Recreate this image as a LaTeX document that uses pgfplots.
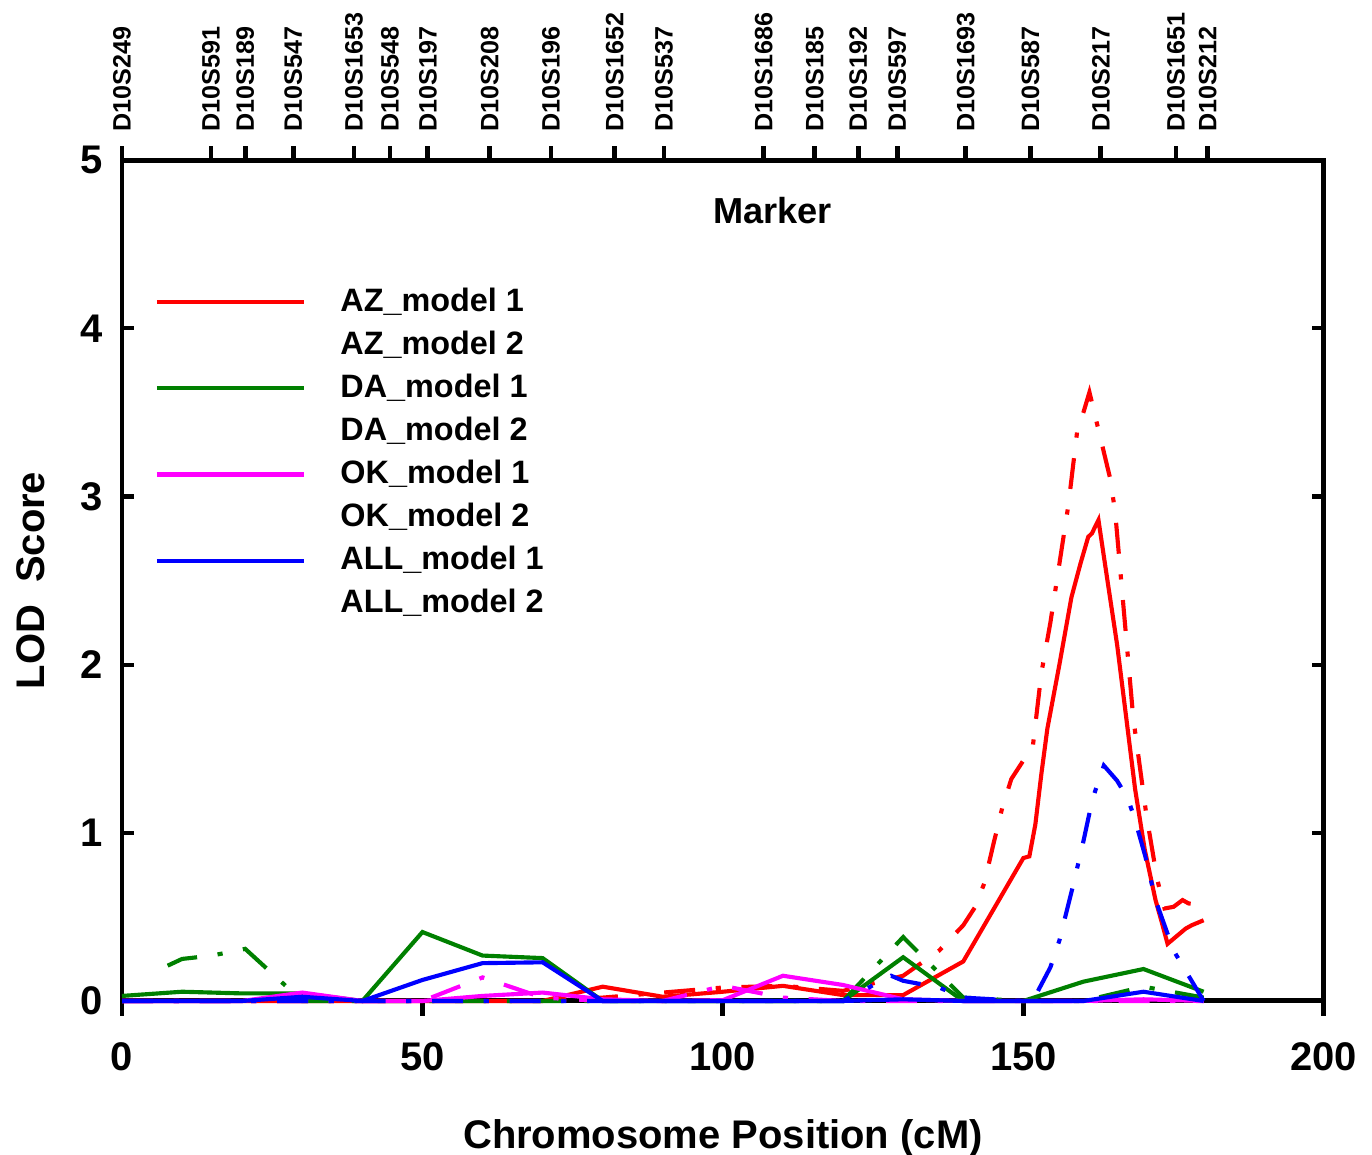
\documentclass[border=0pt]{standalone}
\usepackage{fontspec}
\setmainfont{Liberation Sans}
\usepackage{pgfplots}
\pgfplotsset{compat=1.18}

\definecolor{azred}{RGB}{255,0,0}
\definecolor{dagreen}{RGB}{0,128,0}
\definecolor{okmag}{RGB}{255,0,255}
\definecolor{allblue}{RGB}{0,0,255}

\pgfplotsset{
  lodbox/.style={width=348.9pt, height=244.1pt, scale only axis,
    xmin=0, xmax=200, ymin=0, ymax=5},
  m1/.style={line width=1.2pt},
  m2/.style={line width=1.2pt, dash pattern=on 9pt off 6pt on 1.5pt off 6pt,
    legend image code/.code={}},
}

\begin{document}
\begin{tikzpicture}
% outward ticks under the x axis, set as rules in the tick labels
\begin{axis}[lodbox,
  axis x line*=bottom, axis y line=none,
  x axis line style={-, line width=1.45pt},
  tick align=outside, major tick length=0pt,
  xtick={0,50,100,150,200},
  xticklabel={\rule{1.4pt}{4.8pt}},
  xticklabel style={anchor=north, inner sep=0pt, yshift=0.7pt},
]
\end{axis}
\begin{axis}[lodbox, clip=false,
  axis line style={line width=1.45pt},
  tick style={line width=1.2pt, black},
  major tick length=3.5pt,
  tick align=inside,
  xtick={0,50,...,200}, xtick pos=left,
  xtick style={draw=none},
  ytick={0,1,...,5}, ytick pos=both, yticklabel pos=left,
  minor tick num=0,
  ticklabel style={font=\fontsize{11.6}{13}\selectfont\bfseries},
  /pgf/number format/assume math mode=true,
  xticklabel style={yshift=-8.5pt},
  yticklabel style={xshift=-2pt},
  xlabel={Chromosome Position (cM)},
  xlabel style={at={(axis description cs:0.5,-0.1749)}, anchor=base,
    font=\fontsize{11.6}{13}\selectfont\bfseries},
  ylabel={LOD\ \ Score},
  ylabel style={at={(axis description cs:-0.0641,0.5)}, anchor=base,
    font=\fontsize{11.6}{13}\selectfont\bfseries},
  legend style={at={(axis description cs:0.0267,0.849)}, anchor=north west,
    draw=none, fill=none, inner sep=0pt, column sep=10pt, row sep=4.2pt,
    font=\fontsize{9.4}{11}\selectfont\bfseries, nodes={inner sep=0pt}},
  legend cell align=left,
  legend image code/.code={\draw[#1] (0pt,0pt) -- (42.7pt,0pt);},
]
% AZ
\addplot[m1, azred] coordinates {
 (0,0) (10,0) (20,0) (30,0) (40,0) (50,0) (60,0) (70,0) (80,0.085) (90,0.025)
 (100,0.055) (110,0.09) (120,0.035) (130,0.035) (140,0.235) (150,0.85) (151,0.86)
 (152,1.05) (153,1.35) (154,1.62) (156,2.0) (158,2.4) (159.5,2.6) (160.8,2.76)
 (161.4,2.78) (162.5,2.86) (164,2.5) (165.6,2.12) (167,1.72) (168.6,1.26)
 (170.2,0.9) (172,0.6) (173.1,0.46) (174,0.34) (175,0.37) (177,0.43) (178,0.45)
 (180,0.48)};
\addlegendentry{AZ\_model 1}
\addplot[m2, azred] coordinates {
 (0,0) (10,0) (20,0) (30,0) (40,0) (50,0) (60,0) (70,0) (80,0.02) (90,0.05)
 (100,0.08) (110,0.09) (120,0.06) (130,0.15) (136,0.3) (140,0.45) (142,0.56)
 (143.5,0.7) (145,0.93) (146.5,1.15) (148,1.32) (150,1.43) (151.5,1.49)
 (153,1.95) (154.5,2.25) (156,2.6) (157.5,2.95) (159,3.4) (160,3.5) (161,3.62)
 (164.5,3.1) (165.3,2.9) (168.3,1.68) (170.5,1.1) (172.3,0.72) (173.5,0.55)
 (175,0.56) (176.5,0.6) (177.5,0.58) (180,0.57)};
\addlegendentry{AZ\_model 2}
% DA
\addplot[m1, dagreen] coordinates {
 (0,0.03) (10,0.055) (20,0.045) (30,0.045) (40,0) (50,0.41) (60,0.27) (70,0.255)
 (80,0) (90,0) (100,0) (110,0) (120,0) (130,0.26) (140,0) (150,0) (160,0.115)
 (170,0.19) (180,0.055)};
\addlegendentry{DA\_model 1}
\addplot[m2, dagreen] coordinates {
 (7.6,0.21) (10,0.25) (15,0.27) (20.5,0.31) (30,0) (40,0) (50,0) (60,0) (70,0)
 (80,0) (90,0) (100,0) (110,0) (120,0) (130,0.38) (140,0.02) (150,0) (160,0)
 (170,0.085) (180,0.02)};
\addlegendentry{DA\_model 2}
% OK
\addplot[m1, okmag] coordinates {
 (0,0) (10,0) (20,0) (30,0.05) (40,0) (50,0) (60,0.03) (70,0.05) (80,0.01)
 (90,0) (100,0.005) (110,0.15) (120,0.095) (130,0.01) (140,0) (150,0) (160,0)
 (170,0.01) (180,0)};
\addlegendentry{OK\_model 1}
\addplot[m2, okmag] coordinates {
 (0,0) (10,0) (20,0) (30,0) (40,0) (50,0) (60,0.14) (70,0.02) (80,0) (90,0)
 (100,0.09) (110,0.02) (120,0) (130,0) (140,0) (150,0) (160,0) (170,0) (180,0)};
\addlegendentry{OK\_model 2}
% ALL
\addplot[m1, allblue] coordinates {
 (0,0) (10,0) (20,0) (30,0.025) (40,0) (50,0.125) (60,0.225) (70,0.23) (80,0)
 (90,0) (100,0) (110,0) (120,0) (130,0.01) (140,0) (150,0) (160,0) (170,0.055)
 (180,0)};
\addlegendentry{ALL\_model 1}
\addplot[m2, allblue] coordinates {
 (0,0) (10,0) (20,0) (30,0) (40,0) (50,0) (60,0) (70,0) (80,0) (90,0) (100,0)
 (110,0) (120,0) (128,0.15) (130,0.12) (136,0.08) (140,0.02) (150,0) (152,0.03)
 (154.5,0.2) (156,0.36) (158.3,0.69) (160,0.95) (161.5,1.2) (163.4,1.4)
 (165.6,1.31) (167.3,1.21) (168.4,1.1) (170.3,0.86) (172,0.6) (175,0.3) (180,0)};
\addlegendentry{ALL\_model 2}
\node[font=\fontsize{10.5}{12}\selectfont\bfseries] at (axis cs:108.3,4.70) {Marker};
\end{axis}
% marker axis on top
\begin{axis}[lodbox,
  axis x line*=top, axis y line=none,
  x axis line style={-, line width=1.45pt},
  tick align=outside, major tick length=4pt,
  tick style={line width=1.4pt, black},
  xtick={0,14.8,20.5,28.5,38.6,44.6,50.9,61.2,71.4,82.0,90.2,106.8,115.3,122.5,129.0,140.4,151.2,162.9,175.4,180.7},
  xticklabels={D10S249,D10S591,D10S189,D10S547,D10S1653,D10S548,D10S197,D10S208,D10S196,D10S1652,D10S537,D10S1686,D10S185,D10S192,D10S597,D10S1693,D10S587,D10S217,D10S1651,D10S212},
  xticklabel style={rotate=90, anchor=west, inner sep=4.2pt,
    font=\fontsize{7.3}{8}\selectfont\bfseries},
]
\end{axis}
\pgfresetboundingbox
\path (-35.42pt,-44.71pt) rectangle (362.9pt,290.6pt);
\end{tikzpicture}
\end{document}
